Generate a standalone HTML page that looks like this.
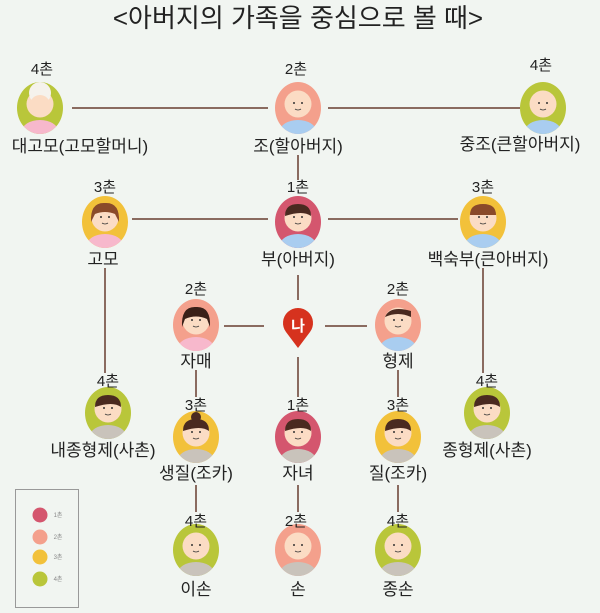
<!DOCTYPE html>
<html><head><meta charset="utf-8"><style>
html,body{margin:0;padding:0;background:#f1f5f1;}
svg{display:block;}
text{font-family:"Liberation Sans","Noto Sans CJK KR",sans-serif;fill:#222;text-anchor:middle;}
.c{font-size:15px;}
.n{font-size:17px;}
</style></head><body>
<svg width="600" height="613" viewBox="0 0 600 613" xmlns="http://www.w3.org/2000/svg">
<defs>
<clipPath id="ov"><ellipse cx="0" cy="0" rx="23" ry="26"/></clipPath>
<g id="blue"><g clip-path="url(#ov)"><ellipse cx="0" cy="23" rx="18" ry="11" fill="#a9cdf0"/></g><circle cx="0" cy="-4" r="13.5" fill="#fbdcc4"/><circle cx="-4" cy="-5" r="1" fill="#333"/><circle cx="4" cy="-5" r="1" fill="#333"/><path d="M-3 1 Q0 3 3 1" stroke="#333" fill="none" stroke-width="0.8"/></g>
<g id="pink"><g clip-path="url(#ov)"><ellipse cx="0" cy="23" rx="18" ry="11" fill="#f7b8cc"/></g><circle cx="0" cy="-4" r="13.5" fill="#fbdcc4"/><circle cx="-4" cy="-5" r="1" fill="#333"/><circle cx="4" cy="-5" r="1" fill="#333"/><path d="M-3 1 Q0 3 3 1" stroke="#333" fill="none" stroke-width="0.8"/></g>
<g id="gray"><g clip-path="url(#ov)"><ellipse cx="0" cy="23" rx="18" ry="11" fill="#c9c3bb"/></g><circle cx="0" cy="-4" r="13.5" fill="#fbdcc4"/><circle cx="-4" cy="-5" r="1" fill="#333"/><circle cx="4" cy="-5" r="1" fill="#333"/><path d="M-3 1 Q0 3 3 1" stroke="#333" fill="none" stroke-width="0.8"/></g>
<path id="hair" d="M-13 -6 Q-13 -18 0 -18 Q13 -18 13 -6 Q5 -12 -13 -6Z" fill="#4a2a20"/>
</defs>
<text x="298" y="27" style="font-size:26px">&lt;아버지의 가족을 중심으로 볼 때&gt;</text>
<g stroke="#8a6b60" stroke-width="2" fill="none">
<line x1="72" y1="108" x2="268" y2="108"/><line x1="328" y1="108" x2="520" y2="108"/>
<line x1="298" y1="155" x2="298" y2="180"/>
<line x1="132" y1="219" x2="268" y2="219"/><line x1="328" y1="219" x2="458" y2="219"/>
<line x1="298" y1="275" x2="298" y2="300"/><line x1="298" y1="357" x2="298" y2="397"/>
<line x1="224" y1="326" x2="264" y2="326"/><line x1="325" y1="326" x2="367" y2="326"/>
<line x1="105" y1="268" x2="105" y2="373"/><line x1="483" y1="268" x2="483" y2="373"/>
<line x1="196" y1="370" x2="196" y2="397"/><line x1="398" y1="370" x2="398" y2="397"/>
<line x1="196" y1="485" x2="196" y2="512"/><line x1="298" y1="485" x2="298" y2="512"/><line x1="398" y1="485" x2="398" y2="512"/>
</g>
<g transform="translate(40,108)"><ellipse rx="23" ry="26" fill="#b9c63a"/><use href="#pink"/><circle cx="0" cy="-15" r="11" fill="#f5f2ec"/><circle cx="0" cy="-3" r="10" fill="#fbdcc4"/></g>
<text class="c" x="42" y="74">4촌</text><text class="n" x="80" y="152">대고모(고모할머니)</text>
<g transform="translate(298,108)"><ellipse rx="23" ry="26" fill="#f4a08c"/><use href="#blue"/></g>
<text class="c" x="296" y="74">2촌</text><text class="n" x="298" y="152">조(할아버지)</text>
<g transform="translate(543,108)"><ellipse rx="23" ry="26" fill="#b9c63a"/><use href="#blue"/></g>
<text class="c" x="541" y="70">4촌</text><text class="n" x="520" y="150">중조(큰할아버지)</text>

<g transform="translate(105,222)"><ellipse rx="23" ry="26" fill="#f2c13a"/><use href="#pink"/><path d="M-14 0 Q-15 -20 0 -19 Q15 -20 14 0 L10 -8 Q0 -12 -10 -8Z" fill="#8a4a2a"/></g>
<text class="c" x="105" y="192">3촌</text><text class="n" x="103" y="265">고모</text>
<g transform="translate(298,222)"><ellipse rx="23" ry="26" fill="#d4566e"/><use href="#blue"/><use href="#hair"/></g>
<text class="c" x="298" y="192">1촌</text><text class="n" x="298" y="265">부(아버지)</text>
<g transform="translate(483,222)"><ellipse rx="23" ry="26" fill="#f2c13a"/><use href="#blue"/><path d="M-13 -7 Q-13 -18 0 -18 Q13 -18 13 -7Z" fill="#8a4a2a"/></g>
<text class="c" x="483" y="192">3촌</text><text class="n" x="488" y="265">백숙부(큰아버지)</text>

<g transform="translate(196,325)"><ellipse rx="23" ry="26" fill="#f4a08c"/><use href="#pink"/><path d="M-14 2 Q-15 -19 0 -18 Q15 -19 14 2 L11 -6 Q0 -11 -11 -6Z" fill="#3a2018"/></g>
<text class="c" x="196" y="294">2촌</text><text class="n" x="196" y="367">자매</text>
<g transform="translate(298,326)"><path d="M0 22 L-12 6 A15 15 0 1 1 12 6Z" fill="#d6321e"/><text x="0" y="5" style="font-size:15px;fill:#fff;font-weight:bold">나</text></g>
<g transform="translate(398,325)"><ellipse rx="23" ry="26" fill="#f4a08c"/><use href="#blue"/><path d="M-13 -8 Q-8 -20 13 -14 L13 -8 Q0 -14 -13 -8Z" fill="#4a2a20"/></g>
<text class="c" x="398" y="294">2촌</text><text class="n" x="398" y="367">형제</text>

<g transform="translate(108,413)"><ellipse rx="23" ry="26" fill="#b9c63a"/><use href="#gray"/><use href="#hair"/></g>
<text class="c" x="108" y="386">4촌</text><text class="n" x="103" y="456">내종형제(사촌)</text>
<g transform="translate(196,437)"><ellipse rx="23" ry="26" fill="#f2c13a"/><use href="#gray"/><use href="#hair"/><circle cx="0" cy="-20" r="5" fill="#4a2a20"/></g>
<text class="c" x="196" y="410">3촌</text><text class="n" x="196" y="479">생질(조카)</text>
<g transform="translate(298,437)"><ellipse rx="23" ry="26" fill="#d4566e"/><use href="#gray"/><use href="#hair"/></g>
<text class="c" x="298" y="410">1촌</text><text class="n" x="298" y="479">자녀</text>
<g transform="translate(398,437)"><ellipse rx="23" ry="26" fill="#f2c13a"/><use href="#gray"/><use href="#hair"/></g>
<text class="c" x="398" y="410">3촌</text><text class="n" x="398" y="479">질(조카)</text>
<g transform="translate(487,413)"><ellipse rx="23" ry="26" fill="#b9c63a"/><use href="#gray"/><use href="#hair"/></g>
<text class="c" x="487" y="386">4촌</text><text class="n" x="487" y="456">종형제(사촌)</text>

<g transform="translate(196,550)"><ellipse rx="23" ry="26" fill="#b9c63a"/><use href="#gray"/></g>
<text class="c" x="196" y="526">4촌</text><text class="n" x="196" y="595">이손</text>
<g transform="translate(298,550)"><ellipse rx="23" ry="26" fill="#f4a08c"/><use href="#gray"/></g>
<text class="c" x="296" y="526">2촌</text><text class="n" x="298" y="595">손</text>
<g transform="translate(398,550)"><ellipse rx="23" ry="26" fill="#b9c63a"/><use href="#gray"/></g>
<text class="c" x="398" y="526">4촌</text><text class="n" x="398" y="595">종손</text>

<rect x="15.5" y="489.5" width="63" height="118" fill="none" stroke="#999" stroke-width="1"/>
<circle cx="40" cy="515" r="7.5" fill="#d4566e"/><circle cx="40" cy="537" r="7.5" fill="#f4a08c"/>
<circle cx="40" cy="557" r="7.5" fill="#f2c13a"/><circle cx="40" cy="579" r="7.5" fill="#b9c63a"/>
<text x="58" y="517" style="font-size:6px;fill:#888">1촌</text><text x="58" y="539" style="font-size:6px;fill:#888">2촌</text><text x="58" y="559" style="font-size:6px;fill:#888">3촌</text><text x="58" y="581" style="font-size:6px;fill:#888">4촌</text>
</svg>
</body></html>
